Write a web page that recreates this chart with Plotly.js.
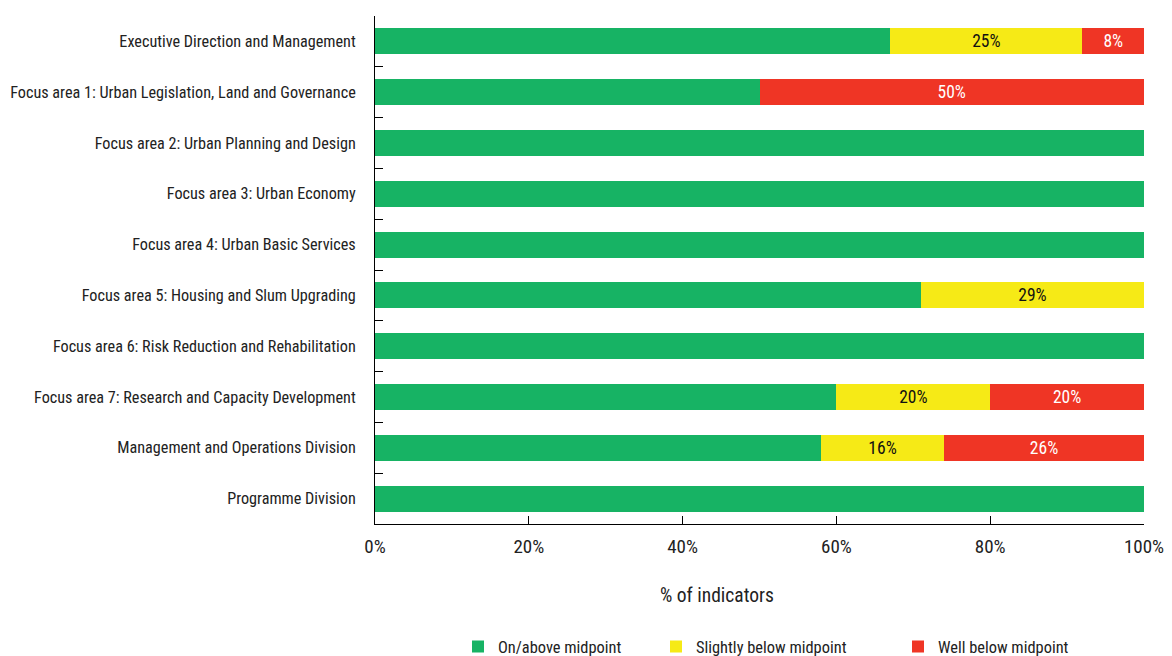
<!DOCTYPE html>
<html><head><meta charset="utf-8">
<script src="https://cdn.plot.ly/plotly-3.0.1.min.js"></script>
<style>html,body{margin:0;padding:0;background:#fff}#chart{width:1172px;height:656px}</style>
</head><body><div id="chart"></div>
<script>
const categories = [
  "Executive Direction and Management",
  "Focus area 1: Urban Legislation, Land and Governance",
  "Focus area 2: Urban Planning and Design",
  "Focus area 3: Urban Economy",
  "Focus area 4: Urban Basic Services",
  "Focus area 5: Housing and Slum Upgrading",
  "Focus area 6: Risk Reduction and Rehabilitation",
  "Focus area 7: Research and Capacity Development",
  "Management and Operations Division",
  "Programme Division"
];
const onAbove = [67, 50, 100, 100, 100, 71, 100, 60, 58, 100];
const slightlyBelow = [25, 0, 0, 0, 0, 29, 0, 20, 16, 0];
const wellBelow = [8, 50, 0, 0, 0, 0, 0, 20, 26, 0];
const xTickVals = [0, 20, 40, 60, 80, 100];
const xTickText = ["0%", "20%", "40%", "60%", "80%", "100%"];
const xTitle = "% of indicators";

const FONT = '"Roboto Condensed", "Liberation Sans Narrow", "DejaVu Sans Condensed", sans-serif';
const lbl = arr => arr.map(v => v > 0 ? v + '%' : '');

const traces = [
  {name: "On/above midpoint", x: onAbove, y: categories, type: 'bar', orientation: 'h',
   marker: {color: '#17b364'}, hoverinfo: 'x+name', legend: 'legend'},
  {name: "Slightly below midpoint", x: slightlyBelow, y: categories, type: 'bar', orientation: 'h',
   marker: {color: '#f6ea16'}, text: lbl(slightlyBelow), textposition: 'inside', constraintext: 'none',
   insidetextanchor: 'middle', textangle: 0, textfont: {family: FONT, size: 17.5, color: '#111'}, legend: 'legend2'},
  {name: "Well below midpoint", x: wellBelow, y: categories, type: 'bar', orientation: 'h',
   marker: {color: '#ef3525'}, text: lbl(wellBelow), textposition: 'inside', constraintext: 'none',
   insidetextanchor: 'middle', textangle: 0, textfont: {family: FONT, size: 17.5, color: '#fff'}, legend: 'legend3'}
];

const legendBase = sx => ({orientation: 'h', x: (sx - 14 - 375) / 769, xanchor: 'left', yref: 'container',
  y: 0.014, yanchor: 'middle', font: {family: FONT, size: 16.4, color: '#222'}, itemwidth: 30,
  bgcolor: 'rgba(0,0,0,0)'});

const layout = {
  width: 1172, height: 656,
  barmode: 'stack', bargap: 0.49,
  margin: {l: 375, r: 28, t: 16, b: 132},
  paper_bgcolor: '#fff', plot_bgcolor: '#fff',
  font: {family: FONT, size: 16, color: '#222'},
  showlegend: true,
  legend: legendBase(472),
  legend2: legendBase(670),
  legend3: legendBase(912),
  annotations: [{text: xTitle, xref: 'paper', yref: 'paper', x: (717 - 375) / 769, xanchor: 'center',
                 y: -0.14, yanchor: 'middle', showarrow: false, font: {family: FONT, size: 19.5, color: '#222'}}],
  xaxis: {range: [0, 100], tickvals: xTickVals, ticktext: xTickText, showgrid: false, zeroline: false,
          showline: true, linecolor: '#000', linewidth: 1, ticks: 'inside', ticklen: 8, tickcolor: '#000',
          tickfont: {size: 19}, ticklabelstandoff: 5, automargin: false},
  yaxis: {type: 'category', autorange: 'reversed', showgrid: false, zeroline: false,
          showline: true, linecolor: '#000', linewidth: 1, ticks: 'inside', ticklen: 8, tickcolor: '#000',
          tickson: 'boundaries', tickfont: {size: 16.2}, ticklabelstandoff: 15, automargin: false}
};
Plotly.newPlot('chart', traces, layout, {displayModeBar: false});
</script></body></html>
